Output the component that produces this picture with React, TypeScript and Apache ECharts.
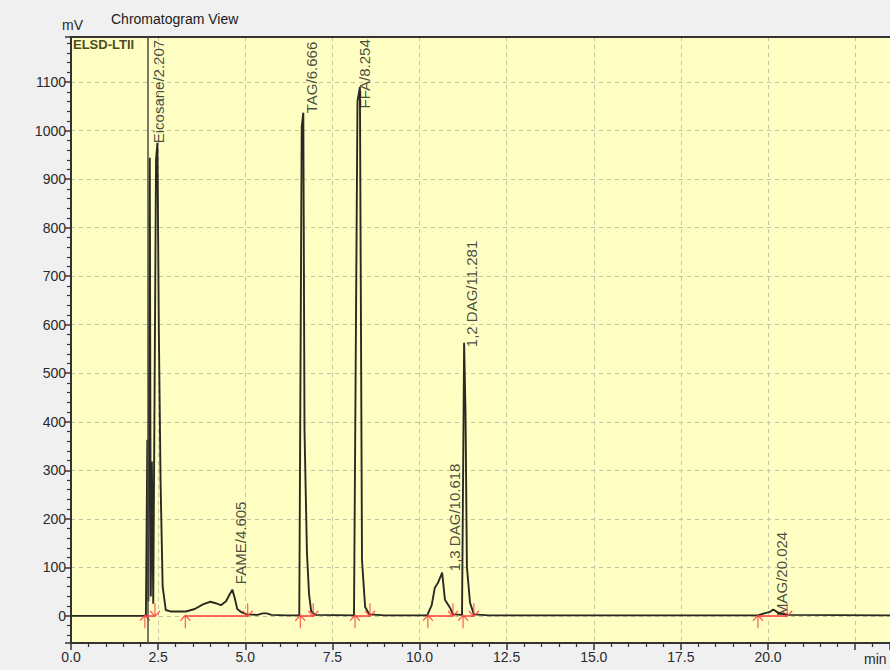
import React, { useEffect, useRef } from "react";
import * as echarts from "echarts";

// ---- Data ----
const timeMin = [
  0, 2.05, 2.15, 2.19, 2.22, 2.26, 2.29, 2.32, 2.36, 2.44, 2.48, 2.52, 2.57, 2.63, 2.72, 2.85,
  3.3, 3.55, 3.8, 4.0, 4.15, 4.3, 4.45, 4.55, 4.63, 4.7, 4.77, 4.9, 5.05, 5.35, 5.5, 5.62, 5.75,
  6.2, 6.55, 6.62, 6.666, 6.7, 6.77, 6.83, 6.89, 7.0,
  8.12, 8.22, 8.29, 8.35, 8.44, 8.56, 9.0,
  10.22, 10.35, 10.44, 10.53, 10.65, 10.73, 10.88, 10.96,
  11.22, 11.28, 11.32, 11.36, 11.45, 11.56, 12.0,
  19.7, 19.95, 20.05, 20.15, 20.3, 20.55, 23.5,
];
const signalMv = [
  0, 0, 1, 363, 30, 944, 40, 318, 25, 940, 975, 590, 276, 60, 12, 9,
  9, 14, 24, 29, 26, 22, 30, 44, 54, 36, 14, 7, 3, 2, 5, 5, 2,
  1, 1, 1008, 1037, 383, 130, 45, 10, 2,
  1, 1060, 1090, 115, 18, 3, 1,
  1, 22, 58, 68, 89, 33, 16, 3,
  2, 563, 419, 101, 27, 3, 1,
  1, 6, 8, 13, 6, 2, 1,
];

const peakNames = [
  "Eicosane/2.207",
  "FAME/4.605",
  "TAG/6.666",
  "FFA/8.254",
  "1,3 DAG/10.618",
  "1,2 DAG/11.281",
  "MAG/20.024",
];
const peakApexTime = [2.48, 4.63, 6.666, 8.29, 10.65, 11.28, 20.15];
const peakApexMv = [975, 54, 1037, 1090, 89, 563, 13];

const integStart = [2.12, 3.28, 6.58, 8.15, 10.24, 11.25, 19.71];
const integEnd = [2.41, 5.07, 6.95, 8.58, 10.96, 11.56, 20.55];

const markerTime = 2.207;

const xTickLabels = [0, 2.5, 5, 7.5, 10, 12.5, 15, 17.5, 20];
const yTickLabels = [0, 100, 200, 300, 400, 500, 600, 700, 800, 900, 1000, 1100];

// ---- layout nudges for the peak labels (pixels) ----
const labelNudge = [
  [2, 1],
  [9, -5],
  [9, 1],
  [5, 22],
  [13, -1],
  [8, 5],
  [9, 7],
];

const RED = "#ff3a3a";
const TRACE = "#2a2a22";

export default function App() {
  const ref = useRef<HTMLDivElement>(null);

  useEffect(() => {
    if (!ref.current) return;
    const chart = echarts.init(ref.current, undefined, { renderer: "svg" });

    const trace = timeMin.map((t, i) => [t, signalMv[i]]);

    const baselineLines = integStart.map((s, i) => [
      { coord: [s, 0], lineStyle: { color: RED, width: 1.5, type: "solid" } },
      { coord: [integEnd[i], 0] },
    ]);

    const labelData = peakNames.map((n, i) => ({
      value: [peakApexTime[i], peakApexMv[i]],
      name: n,
      label: { position: labelNudge[i] },
    }));

    const gridLine = { show: true, lineStyle: { color: "#c4c4a4", type: [4, 4], width: 1 } };

    const option: any = {
      animation: false,
      backgroundColor: "#f0f0f0",
      grid: {
        left: 71,
        right: 0,
        top: 37,
        bottom: 27,
        show: true,
        backgroundColor: "#ffffc4",
        borderWidth: 0,
      },
      xAxis: [
        {
          type: "value",
          min: 0,
          max: 23.5,
          interval: 2.5,
          axisLine: { show: true, onZero: false, lineStyle: { color: "#333", width: 2 } },
          axisTick: { show: true, length: 7, lineStyle: { color: "#333", width: 1.5 } },
          minorTick: { show: true, splitNumber: 5, length: 4, lineStyle: { color: "#333", width: 1.2 } },
          splitLine: gridLine,
          axisLabel: {
            showMaxLabel: false,
            margin: 7,
            fontSize: 14,
            color: "#2a2a2a",
            fontFamily: "Liberation Sans, Arial, sans-serif",
            formatter: (v: number) =>
              xTickLabels.some((t) => Math.abs(t - v) < 1e-6) ? v.toFixed(1) : "",
          },
        },
        {
          type: "value",
          position: "top",
          min: 0,
          max: 23.5,
          axisLine: { show: true, onZero: false, lineStyle: { color: "#333", width: 2 } },
          axisTick: { show: false },
          axisLabel: { show: false },
          splitLine: { show: false },
        },
      ],
      yAxis: {
        type: "value",
        min: -56,
        max: 1193,
        splitNumber: 12,
        axisLine: { show: true, onZero: false, lineStyle: { color: "#333", width: 2 } },
        axisTick: { show: true, length: 6, lineStyle: { color: "#333", width: 1.5 } },
        minorTick: { show: true, splitNumber: 5, length: 4, lineStyle: { color: "#333", width: 1.2 } },
        splitLine: gridLine,
        axisLabel: {
          showMinLabel: false,
          showMaxLabel: false,
          margin: 5,
          fontSize: 14,
          color: "#2a2a2a",
          fontFamily: "Liberation Sans, Arial, sans-serif",
          formatter: (v: number) => (yTickLabels.indexOf(v) >= 0 ? String(v) : ""),
        },
      },
      series: [
        {
          type: "line",
          data: trace,
          showSymbol: false,
          symbol: "none",
          lineStyle: { color: TRACE, width: 1.9 },
          z: 3,
          markLine: {
            silent: true,
            symbol: ["none", "none"],
            label: { show: false },
            data: [
              { xAxis: markerTime, lineStyle: { color: "#4a4a44", width: 1.5, type: "solid" } },
              ...baselineLines,
            ],
          },
        },
        {
          type: "scatter",
          data: integStart.map((t) => [t, 0]),
          symbol: "path://M5,0 L5,12 M1,5 L5,0 L9,5",
          symbolSize: [10, 13],
          symbolOffset: [0, 6],
          itemStyle: { color: "rgba(0,0,0,0)", borderColor: RED, borderWidth: 1.4 },
          z: 4,
        },
        {
          type: "scatter",
          data: integEnd.map((t) => [t, 0]),
          symbol: "path://M5,12 L5,0 M1,7 L5,12 L9,7",
          symbolSize: [10, 13],
          symbolOffset: [0, -6],
          itemStyle: { color: "rgba(0,0,0,0)", borderColor: RED, borderWidth: 1.4 },
          z: 4,
        },
        {
          type: "scatter",
          data: labelData,
          symbolSize: 1,
          itemStyle: { color: "rgba(0,0,0,0)" },
          z: 5,
          label: {
            show: true,
            formatter: (p: any) => p.name,
            rotate: 90,
            align: "left",
            verticalAlign: "middle",
            fontSize: 15,
            color: "#1a1a1a",
            fontFamily: "Liberation Sans, Arial, sans-serif",
          },
        },
      ],
      graphic: [
        {
          type: "text",
          left: 111,
          top: 12,
          style: {
            text: "Chromatogram View",
            fontSize: 14,
            fill: "#1a1a1a",
            fontFamily: "Liberation Sans, Arial, sans-serif",
          },
        },
        {
          type: "text",
          left: 62,
          top: 18,
          style: {
            text: "mV",
            fontSize: 14,
            fill: "#2a2a2a",
            fontFamily: "Liberation Sans, Arial, sans-serif",
          },
        },
        {
          type: "text",
          left: 73,
          top: 38,
          z: 10,
          style: {
            text: "ELSD-LTII",
            fontSize: 13,
            fontWeight: "bold",
            fill: "#4d4d22",
            fontFamily: "Liberation Sans, Arial, sans-serif",
          },
        },
        {
          type: "text",
          left: 864,
          top: 652,
          style: {
            text: "min",
            fontSize: 14,
            fill: "#2a2a2a",
            fontFamily: "Liberation Sans, Arial, sans-serif",
          },
        },
      ],
    };

    chart.setOption(option);
    return () => chart.dispose();
  }, []);

  return (
    <div
      ref={ref}
      style={{ position: "fixed", left: 0, top: 0, width: 890, height: 670 }}
    />
  );
}
